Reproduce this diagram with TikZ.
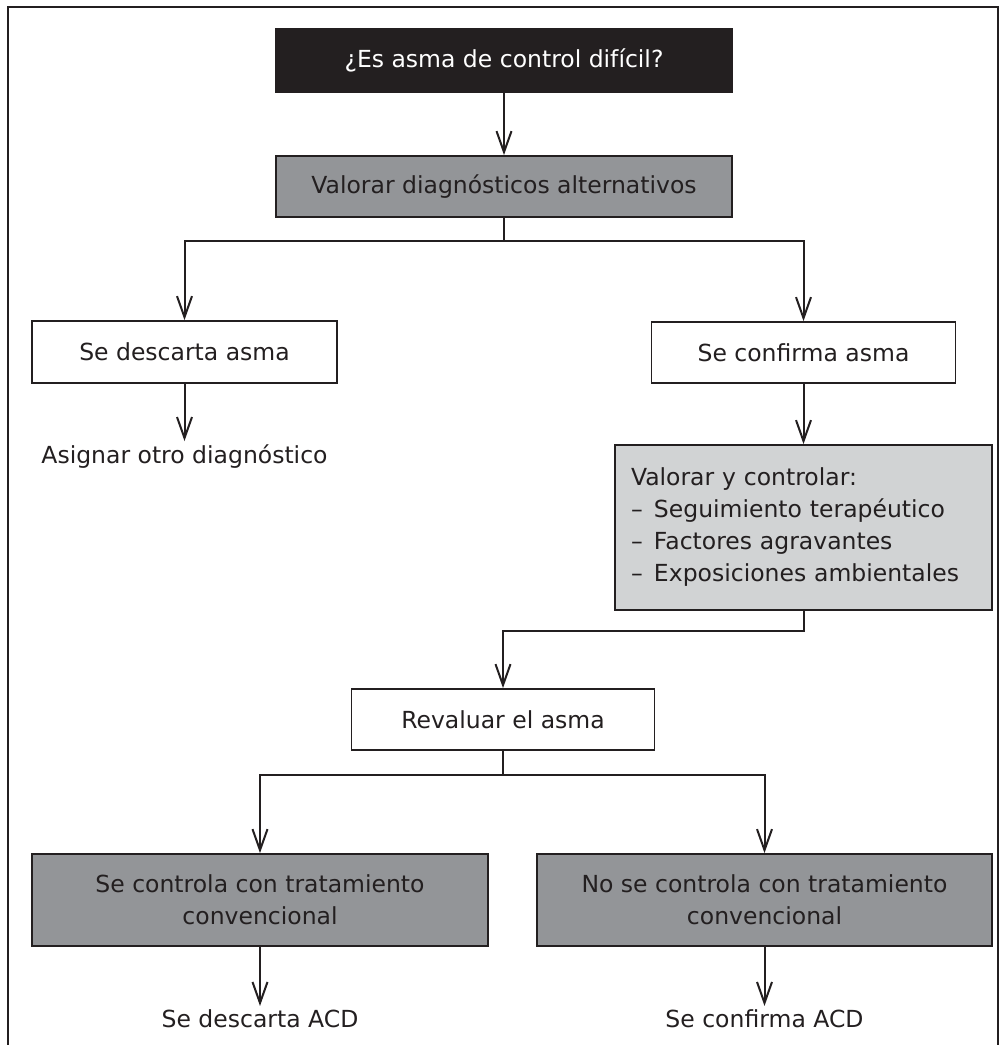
\documentclass[tikz,border=0pt]{standalone}
\usepackage{fontspec}
\setmainfont{DejaVu Sans}
\usetikzlibrary{arrows.meta}
\definecolor{ink}{HTML}{231F20}
\definecolor{midgray}{HTML}{939598}
\definecolor{lightgray}{HTML}{D1D3D4}
\begin{document}
\begin{tikzpicture}[x=1pt,y=-1pt,
  every node/.style={font=\fontsize{23.5}{32}\selectfont, text=ink},
  box/.style={draw=ink, line width=1.8pt, rectangle, inner sep=0pt, align=center},
  conn/.style={draw=ink, line width=2pt},
  arr/.style={conn, -{Straight Barb[length=21pt,width=15pt]}},
  plain/.style={inner sep=3pt}
]
\useasboundingbox (0,0) rectangle (1001,1045);
\draw[ink, line width=1.6pt] (8,1045) -- (8,7) -- (998,7) -- (998,1045);

\node[box, fill=ink, text=white, minimum width=456pt, minimum height=63pt] (q) at (504,60.5) {¿Es asma de control difícil?};
\node[box, fill=midgray, minimum width=456pt, minimum height=61pt] (va) at (504,186.5) {Valorar diagnósticos alternativos};
\node[box, fill=white, minimum width=305pt, minimum height=62pt] (sda) at (184.5,352) {Se descarta asma};
\node[box, fill=white, minimum width=304pt, minimum height=61pt] (sca) at (803.5,352.5) {Se confirma asma};
\node[plain, anchor=base] (otro) at (184.5,463) {Asignar otro diagnóstico};
\node[box, fill=lightgray, minimum width=377pt, minimum height=165pt, text width=345pt, inner xsep=16pt, align=left] (vyc) at (803.5,527.5)
  {Valorar y controlar:\\
   \makebox[23pt][l]{–}Seguimiento terapéutico\\
   \makebox[23pt][l]{–}Factores agravantes\\
   \makebox[23pt][l]{–}Exposiciones ambientales};
\node[box, fill=white, minimum width=303pt, minimum height=61pt] (rev) at (503,719.5) {Revaluar el asma};
\node[box, fill=midgray, minimum width=456pt, minimum height=92pt] (scc) at (260,900) {Se controla con tratamiento\\convencional};
\node[box, fill=midgray, minimum width=455pt, minimum height=92pt] (nsc) at (764.5,900) {No se controla con tratamiento\\convencional};
\node[plain, anchor=base] (sdacd) at (260,1027) {Se descarta ACD};
\node[plain, anchor=base] (scacd) at (764.5,1027) {Se confirma ACD};

\coordinate (b1) at (504,241);
\coordinate (b2) at (803.5,631);
\coordinate (b3) at (503,775);

\draw[arr] (q.south) -- (va.north);
\draw[arr] (va.south) -- (b1) -| (sda.north);
\draw[arr] (b1) -| (sca.north);
\draw[arr] (sda.south) -- (otro.north);
\draw[arr] (sca.south) -- (vyc.north);
\draw[arr] (vyc.south) -- (b2) -| (rev.north);
\draw[arr] (rev.south) -- (b3) -| (scc.north);
\draw[arr] (b3) -| (nsc.north);
\draw[arr] (scc.south) -- (sdacd.north);
\draw[arr] (nsc.south) -- (scacd.north);
\end{tikzpicture}
\end{document}
